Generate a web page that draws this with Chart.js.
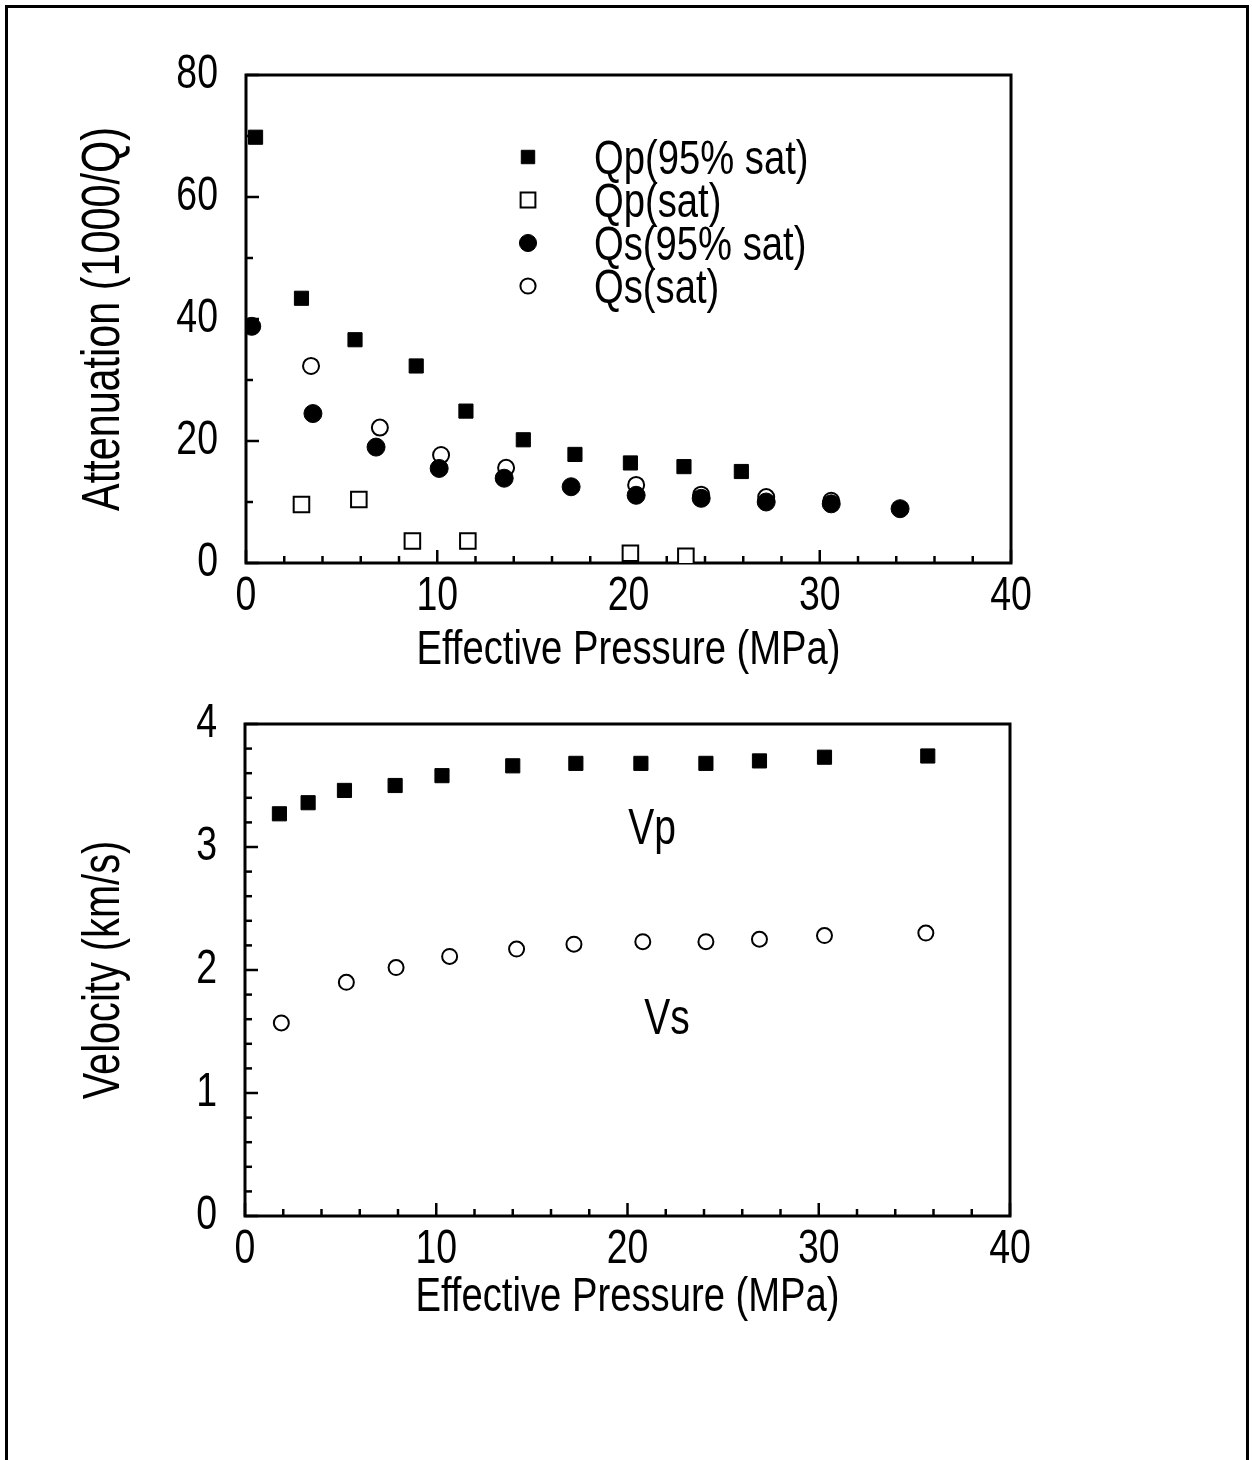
<!DOCTYPE html>
<html><head><meta charset="utf-8">
<script src="https://cdn.jsdelivr.net/npm/chart.js@4.4.1/dist/chart.umd.min.js"></script>
<style>
html,body{margin:0;padding:0;background:#fff;}
body{width:1252px;height:1460px;position:relative;overflow:hidden;}
canvas{position:absolute;left:0;}
.fl{position:absolute;background:#000;}
</style></head><body>
<div class="fl" style="left:5px;top:5px;width:3px;height:1455px"></div>
<div class="fl" style="left:5px;top:5px;width:1244px;height:3px"></div>
<div class="fl" style="left:1246px;top:5px;width:3px;height:1455px"></div>
<canvas id="c1" width="1252" height="680" style="top:0px"></canvas>
<canvas id="c2" width="1252" height="800" style="top:660px"></canvas>
<script>
// ---------- data (top: attenuation) ----------
const pQp95 = [0.5, 2.9, 5.7, 8.9, 11.5, 14.5, 17.2, 20.1, 22.9, 25.9];
const qp95  = [69.8, 43.4, 36.6, 32.3, 24.9, 20.2, 17.8, 16.4, 15.8, 15.0];
const pQpSat = [2.9, 5.9, 8.7, 11.6, 20.1, 23.0];
const qpSat  = [9.6, 10.4, 3.6, 3.6, 1.6, 1.1];
const pQs95 = [0.3, 3.5, 6.8, 10.1, 13.5, 17.0, 20.4, 23.8, 27.2, 30.6, 34.2];
const qs95  = [38.8, 24.5, 19.0, 15.5, 13.9, 12.5, 11.1, 10.6, 10.0, 9.7, 8.9];
const pQsSat = [3.4, 7.0, 10.2, 13.6, 20.4, 23.8, 27.2, 30.6];
const qsSat  = [32.3, 22.2, 17.7, 15.6, 12.8, 11.2, 10.8, 10.2];
const seriesNamesTop = ['Qp(95% sat)', 'Qp(sat)', 'Qs(95% sat)', 'Qs(sat)'];
// ---------- data (bottom: velocity) ----------
const pVp = [1.8, 3.3, 5.2, 7.85, 10.3, 14.0, 17.3, 20.7, 24.1, 26.9, 30.3, 35.7];
const vp  = [3.27, 3.36, 3.46, 3.50, 3.58, 3.66, 3.68, 3.68, 3.68, 3.70, 3.73, 3.74];
const pVs = [1.9, 5.3, 7.9, 10.7, 14.2, 17.2, 20.8, 24.1, 26.9, 30.3, 35.6];
const vs  = [1.57, 1.90, 2.02, 2.11, 2.17, 2.21, 2.23, 2.23, 2.25, 2.28, 2.30];
const seriesNamesBottom = ['Vp', 'Vs'];
const xTitle = 'Effective Pressure (MPa)';
const yTitleTop = 'Attenuation (1000/Q)';
const yTitleBottom = 'Velocity (km/s)';

const FONT = "'Liberation Sans', Arial, sans-serif";
const SX = 0.78; // horizontal text compression (condensed face look)
const pts = (xs, ys) => xs.map((x, i) => ({x, y: ys[i]}));

function condense(canvas, sx) {
  const ctx = canvas.getContext('2d');
  const of = ctx.fillText.bind(ctx);
  const om = ctx.measureText.bind(ctx);
  ctx.fillText = function (t, x, y, mw) {
    ctx.save();
    ctx.translate(x, y);
    ctx.scale(sx, 1);
    if (mw === undefined || mw === null) of(t, 0, 0); else of(t, 0, 0, mw / sx);
    ctx.restore();
  };
  ctx.measureText = function (t) {
    const m = om(t);
    return {width: m.width * sx, actualBoundingBoxAscent: m.actualBoundingBoxAscent,
      actualBoundingBoxDescent: m.actualBoundingBoxDescent,
      actualBoundingBoxLeft: m.actualBoundingBoxLeft * sx, actualBoundingBoxRight: m.actualBoundingBoxRight * sx};
  };
  return canvas;
}

const framePlugin = {
  id: 'frame',
  beforeDatasetsDraw(chart, args, o) {
    const {ctx, chartArea: a, scales: {x, y}} = chart;
    ctx.save();
    ctx.strokeStyle = '#000';
    ctx.lineWidth = 3;
    ctx.strokeRect(a.left, a.top, a.right - a.left, a.bottom - a.top);
    ctx.lineWidth = 2.5;
    const isMajor = (v, m) => Math.abs(v / m - Math.round(v / m)) < 1e-6;
    const nx = Math.round((x.max - x.min) / o.xMinor);
    for (let i = 0; i <= nx; i++) {
      const v = x.min + i * o.xMinor;
      const px = x.getPixelForValue(v);
      const L = isMajor(v, o.xMajor) ? 13 : 7;
      ctx.beginPath(); ctx.moveTo(px, a.bottom); ctx.lineTo(px, a.bottom - L); ctx.stroke();
    }
    const ny = Math.round((y.max - y.min) / o.yMinor);
    for (let i = 0; i <= ny; i++) {
      const v = y.min + i * o.yMinor;
      const py = y.getPixelForValue(v);
      const L = isMajor(v, o.yMajor) ? 13 : 7;
      ctx.beginPath(); ctx.moveTo(a.left, py); ctx.lineTo(a.left + L, py); ctx.stroke();
    }
    ctx.restore();
  }
};

const legendPlugin = {
  id: 'innerLegend',
  afterDraw(chart, args, o) {
    if (!o.show) return;
    const ctx = chart.ctx;
    ctx.save();
    chart.data.datasets.forEach((ds, i) => {
      const y = o.y0 + i * o.dy;
      ctx.fillStyle = ds.pointBackgroundColor;
      ctx.strokeStyle = ds.pointBorderColor;
      ctx.lineWidth = ds.pointBorderWidth;
      Chart.helpers.drawPoint(ctx, {pointStyle: ds.pointStyle, radius: ds.pointRadius * 0.95, borderWidth: ds.pointBorderWidth, rotation: 0}, o.markerX, y);
      ctx.fillStyle = '#000';
      ctx.font = o.fontSize + 'px ' + FONT;
      ctx.textBaseline = 'middle';
      ctx.textAlign = 'left';
      ctx.fillText(ds.label, o.textX, y + 3);
    });
    ctx.restore();
  }
};

const labelPlugin = {
  id: 'seriesLabels',
  afterDraw(chart, args, o) {
    if (!o.items) return;
    const ctx = chart.ctx;
    ctx.save();
    ctx.fillStyle = '#000';
    ctx.font = o.fontSize + 'px ' + FONT;
    ctx.textAlign = 'center';
    ctx.textBaseline = 'alphabetic';
    o.items.forEach(it => ctx.fillText(it.text, it.x, it.y));
    ctx.restore();
  }
};

function scaleOpts(min, max, step, title, isX, fitSize, titlePad, titleSize) {
  return {
    type: 'linear', min, max,
    position: isX ? 'bottom' : 'left',
    grid: {display: false, drawTicks: false},
    border: {display: false},
    ticks: {
      stepSize: step, color: '#000', padding: isX ? 5 : 28,
      font: {family: FONT, size: 48}, maxRotation: 0, autoSkip: false,
      callback: v => String(v)
    },
    title: {display: true, text: title, color: '#000', font: {family: FONT, size: titleSize}, padding: titlePad},
    afterFit(s) { if (isX) s.height = fitSize; else s.width = fitSize; }
  };
}

function mk(label, xs, ys, style, filled, r) {
  return {
    label, data: pts(xs, ys), pointStyle: style, pointRadius: r, pointHoverRadius: r,
    pointBackgroundColor: filled ? '#000' : '#fff', pointBorderColor: '#000',
    pointBorderWidth: filled ? 1 : 2, showLine: false
  };
}

new Chart(condense(document.getElementById('c1'), SX), {
  type: 'scatter',
  data: {datasets: [
    mk(seriesNamesTop[0], pQp95, qp95, 'rect', true, 10),
    mk(seriesNamesTop[1], pQpSat, qpSat, 'rect', false, 11),
    mk(seriesNamesTop[2], pQs95, qs95, 'circle', true, 9),
    mk(seriesNamesTop[3], pQsSat, qsSat, 'circle', false, 8)
  ]},
  options: {
    responsive: false, animation: false, devicePixelRatio: 1,
    layout: {padding: {top: 75, right: 241, left: 0, bottom: 0}},
    scales: {
      x: scaleOpts(0, 40, 10, xTitle, true, 117, {top: 0, bottom: 0}, 49),
      y: scaleOpts(0, 80, 20, yTitleTop, false, 246, {top: 73, bottom: 0}, 53)
    },
    plugins: {
      legend: {display: false}, tooltip: {enabled: false},
      frame: {xMinor: 2, xMajor: 10, yMinor: 10, yMajor: 20},
      innerLegend: {show: true, markerX: 528, textX: 594, y0: 157, dy: 43, fontSize: 49},
      seriesLabels: {}
    }
  },
  plugins: [framePlugin, legendPlugin, labelPlugin]
});

new Chart(condense(document.getElementById('c2'), SX), {
  type: 'scatter',
  data: {datasets: [
    mk(seriesNamesBottom[0], pVp, vp, 'rect', true, 10),
    mk(seriesNamesBottom[1], pVs, vs, 'circle', false, 7.5)
  ]},
  options: {
    responsive: false, animation: false, devicePixelRatio: 1,
    layout: {padding: {top: 64, right: 242, left: 0, bottom: 0}},
    scales: {
      x: scaleOpts(0, 40, 10, xTitle, true, 244, {top: 0, bottom: 133}, 49),
      y: scaleOpts(0, 4, 1, yTitleBottom, false, 245, {top: 74, bottom: 0}, 51)
    },
    plugins: {
      legend: {display: false}, tooltip: {enabled: false},
      frame: {xMinor: 2, xMajor: 10, yMinor: 0.2, yMajor: 1},
      innerLegend: {show: false},
      seriesLabels: {fontSize: 50, items: [
        {text: seriesNamesBottom[0], x: 652, y: 184},
        {text: seriesNamesBottom[1], x: 667, y: 374}
      ]}
    }
  },
  plugins: [framePlugin, legendPlugin, labelPlugin]
});
</script>
</body></html>
